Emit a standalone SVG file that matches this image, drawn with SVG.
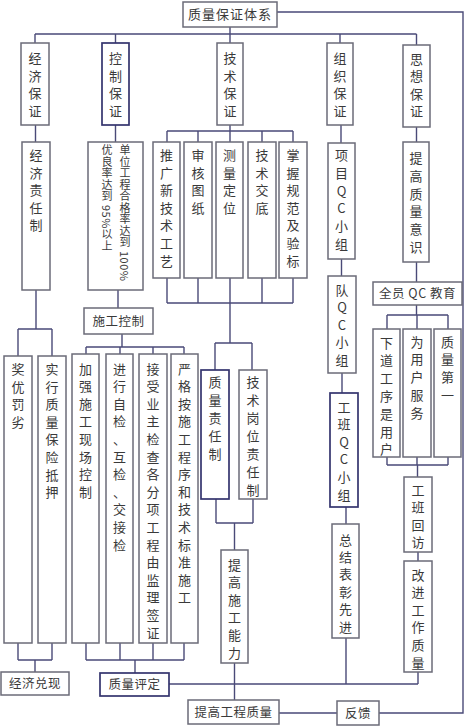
<svg xmlns="http://www.w3.org/2000/svg" width="465" height="726" viewBox="0 0 465 726">
<style>
.b{fill:#fff;stroke:#6b6b78;stroke-width:1.5}
.bd{fill:#fff;stroke:#34346e;stroke-width:1.7}
.c{fill:none;stroke:#4a4a78;stroke-width:1.4}
text{font-family:"Noto Sans CJK SC","Noto Sans CJK JP",sans-serif;font-size:13px;fill:#3a3a3a;text-anchor:middle}
.h{font-size:12.5px;letter-spacing:0.5px}
.v{font-size:11px;letter-spacing:0.5px;text-anchor:start;writing-mode:vertical-rl}
</style>
<rect width="465" height="726" fill="#fff"/>
<g id="connectors" class="c">
<path d="M230 27V34M35 34H416.5M35 34V43M115.5 34V43M230 34V43M340 34V43M416.5 34V45M277 12H463V713H379M279 713H337"/>
<path d="M35.5 125V142M115.5 125V142M118 290V308M230 125V142M167 131H293M167 131V142M198 131V142M262 131V142M293 131V142"/>
<path d="M341 125V143M341.5 259V276M342 373V393M346 507V524M346 638V684"/>
<path d="M416.5 127V142M416.5 262V282M416.5 305V315M387 315H448M387 315V329M417 315V329M448 315V329M387 457V465M417 457V465M448 457V465M387 465H448M417.5 465V477M418 552V561M418 672V684"/>
<path d="M36 290V329M18 329H52M18 329V356M52 329V356M122 334V347M86 347H184M86 347V354M120 347V354M153 347V354M184 347V354"/>
<path d="M18 643V660M52 643V660M18 660H52M35 660V672M86 643V660M120 643V660M153 643V660M184 643V660M86 660H184M135 660V673"/>
<path d="M167 278V303M198 278V303M262 278V303M293 278V303M167 303H293M230 278V343M215 343H252M215 343V370M252 343V370M216 499V523M253 499V523M216 523H253M234.5 523V550M234.5 663V700M169 684H418"/>
</g>
<g id="n0"><rect class="b" x="183" y="2" width="94" height="25"/><text x="230" y="19" style="letter-spacing:1px">质量保证体系</text></g>
<g id="n1"><rect class="b" x="21" y="43" width="28" height="82"/><text><tspan x="35" y="63">经</tspan><tspan x="35" y="80.5">济</tspan><tspan x="35" y="98">保</tspan><tspan x="35" y="115.5">证</tspan></text></g>
<g id="n2"><rect class="bd" x="102" y="43" width="27" height="82"/><text><tspan x="115.5" y="63">控</tspan><tspan x="115.5" y="80.5">制</tspan><tspan x="115.5" y="98">保</tspan><tspan x="115.5" y="115.5">证</tspan></text></g>
<g id="n3"><rect class="b" x="217" y="43" width="26" height="82"/><text><tspan x="230" y="63">技</tspan><tspan x="230" y="80.5">术</tspan><tspan x="230" y="98">保</tspan><tspan x="230" y="115.5">证</tspan></text></g>
<g id="n4"><rect class="b" x="327" y="43" width="26" height="82"/><text><tspan x="340" y="63">组</tspan><tspan x="340" y="80.5">织</tspan><tspan x="340" y="98">保</tspan><tspan x="340" y="115.5">证</tspan></text></g>
<g id="n5"><rect class="b" x="403" y="45" width="27" height="82"/><text><tspan x="416.5" y="63.5">思</tspan><tspan x="416.5" y="81">想</tspan><tspan x="416.5" y="98.5">保</tspan><tspan x="416.5" y="116">证</tspan></text></g>
<g id="n6"><rect class="b" x="22" y="142" width="28" height="148"/><text><tspan x="36" y="160">经</tspan><tspan x="36" y="177.6">济</tspan><tspan x="36" y="195.2">责</tspan><tspan x="36" y="212.8">任</tspan><tspan x="36" y="230.4">制</tspan></text></g>
<g id="n7"><rect class="b" x="88" y="142" width="55" height="148"/><text class="v" x="125" y="144.5">单位工程合格率达到 100%</text><text class="v" x="107" y="144.5">优良率达到 95%以上</text></g>
<g id="n8"><rect class="b" x="153" y="142" width="27" height="136"/><text><tspan x="166.5" y="160">推</tspan><tspan x="166.5" y="177.6">广</tspan><tspan x="166.5" y="195.2">新</tspan><tspan x="166.5" y="212.8">技</tspan><tspan x="166.5" y="230.4">术</tspan><tspan x="166.5" y="248">工</tspan><tspan x="166.5" y="265.6">艺</tspan></text></g>
<g id="n9"><rect class="b" x="184" y="142" width="28" height="136"/><text><tspan x="198" y="160">审</tspan><tspan x="198" y="177.6">核</tspan><tspan x="198" y="195.2">图</tspan><tspan x="198" y="212.8">纸</tspan></text></g>
<g id="n10"><rect class="b" x="216" y="142" width="27" height="136"/><text><tspan x="229.5" y="160">测</tspan><tspan x="229.5" y="177.6">量</tspan><tspan x="229.5" y="195.2">定</tspan><tspan x="229.5" y="212.8">位</tspan></text></g>
<g id="n11"><rect class="b" x="248" y="142" width="28" height="136"/><text><tspan x="262" y="160">技</tspan><tspan x="262" y="177.6">术</tspan><tspan x="262" y="195.2">交</tspan><tspan x="262" y="212.8">底</tspan></text></g>
<g id="n12"><rect class="b" x="279" y="142" width="28" height="136"/><text><tspan x="293" y="160">掌</tspan><tspan x="293" y="177.6">握</tspan><tspan x="293" y="195.2">规</tspan><tspan x="293" y="212.8">范</tspan><tspan x="293" y="230.4">及</tspan><tspan x="293" y="248">验</tspan><tspan x="293" y="265.6">标</tspan></text></g>
<g id="n13"><rect class="b" x="328" y="143" width="27" height="116"/><text><tspan x="341.5" y="160">项</tspan><tspan x="341.5" y="177.8">目</tspan><tspan x="341.5" y="195.6">Q</tspan><tspan x="341.5" y="213.4">C</tspan><tspan x="341.5" y="231.2">小</tspan><tspan x="341.5" y="249">组</tspan></text></g>
<g id="n14"><rect class="b" x="403" y="142" width="26" height="120"/><text><tspan x="416" y="163">提</tspan><tspan x="416" y="180.8">高</tspan><tspan x="416" y="198.6">质</tspan><tspan x="416" y="216.4">量</tspan><tspan x="416" y="234.2">意</tspan><tspan x="416" y="252">识</tspan></text></g>
<g id="n15"><rect class="b" x="84" y="308" width="69" height="26"/><text class="h" x="118.5" y="325.5">施工控制</text></g>
<g id="n16"><rect class="b" x="373" y="282" width="89" height="23"/><text class="h" x="417.5" y="298">全员 QC 教育</text></g>
<g id="n17"><rect class="b" x="328" y="276" width="28" height="97"/><text><tspan x="342" y="294.5">队</tspan><tspan x="342" y="312">Q</tspan><tspan x="342" y="329.5">C</tspan><tspan x="342" y="347">小</tspan><tspan x="342" y="364.5">组</tspan></text></g>
<g id="n18"><rect class="b" x="4" y="356" width="28" height="287"/><text><tspan x="18" y="374">奖</tspan><tspan x="18" y="391.6">优</tspan><tspan x="18" y="409.2">罚</tspan><tspan x="18" y="426.8">劣</tspan></text></g>
<g id="n19"><rect class="b" x="38" y="356" width="28" height="287"/><text><tspan x="52" y="374">实</tspan><tspan x="52" y="391.6">行</tspan><tspan x="52" y="409.2">质</tspan><tspan x="52" y="426.8">量</tspan><tspan x="52" y="444.4">保</tspan><tspan x="52" y="462">险</tspan><tspan x="52" y="479.6">抵</tspan><tspan x="52" y="497.2">押</tspan></text></g>
<g id="n20"><rect class="b" x="72" y="354" width="27" height="289"/><text><tspan x="85.5" y="373.5">加</tspan><tspan x="85.5" y="391.1">强</tspan><tspan x="85.5" y="408.7">施</tspan><tspan x="85.5" y="426.3">工</tspan><tspan x="85.5" y="443.9">现</tspan><tspan x="85.5" y="461.5">场</tspan><tspan x="85.5" y="479.1">控</tspan><tspan x="85.5" y="496.7">制</tspan></text></g>
<g id="n21"><rect class="b" x="106" y="354" width="27" height="289"/><text><tspan x="119.5" y="373.5">进</tspan><tspan x="119.5" y="391.1">行</tspan><tspan x="119.5" y="408.7">自</tspan><tspan x="119.5" y="426.3">检</tspan><tspan x="119.5" y="443.9">、</tspan><tspan x="119.5" y="461.5">互</tspan><tspan x="119.5" y="479.1">检</tspan><tspan x="119.5" y="496.7">、</tspan><tspan x="119.5" y="514.3">交</tspan><tspan x="119.5" y="531.9">接</tspan><tspan x="119.5" y="549.5">检</tspan></text></g>
<g id="n22"><rect class="b" x="139" y="354" width="28" height="289"/><text><tspan x="153" y="373.5">接</tspan><tspan x="153" y="391.1">受</tspan><tspan x="153" y="408.7">业</tspan><tspan x="153" y="426.3">主</tspan><tspan x="153" y="443.9">检</tspan><tspan x="153" y="461.5">查</tspan><tspan x="153" y="479.1">各</tspan><tspan x="153" y="496.7">分</tspan><tspan x="153" y="514.3">项</tspan><tspan x="153" y="531.9">工</tspan><tspan x="153" y="549.5">程</tspan><tspan x="153" y="567.1">由</tspan><tspan x="153" y="584.7">监</tspan><tspan x="153" y="602.3">理</tspan><tspan x="153" y="619.9">签</tspan><tspan x="153" y="637.5">证</tspan></text></g>
<g id="n23"><rect class="b" x="171" y="354" width="27" height="289"/><text><tspan x="184.5" y="373.5">严</tspan><tspan x="184.5" y="391.1">格</tspan><tspan x="184.5" y="408.7">按</tspan><tspan x="184.5" y="426.3">施</tspan><tspan x="184.5" y="443.9">工</tspan><tspan x="184.5" y="461.5">程</tspan><tspan x="184.5" y="479.1">序</tspan><tspan x="184.5" y="496.7">和</tspan><tspan x="184.5" y="514.3">技</tspan><tspan x="184.5" y="531.9">术</tspan><tspan x="184.5" y="549.5">标</tspan><tspan x="184.5" y="567.1">准</tspan><tspan x="184.5" y="584.7">施</tspan><tspan x="184.5" y="602.3">工</tspan></text></g>
<g id="n24"><rect class="bd" x="201" y="370" width="28" height="129"/><text><tspan x="215" y="386.5">质</tspan><tspan x="215" y="404.5">量</tspan><tspan x="215" y="422.5">责</tspan><tspan x="215" y="440.5">任</tspan><tspan x="215" y="458.5">制</tspan></text></g>
<g id="n25"><rect class="b" x="239" y="370" width="28" height="129"/><text><tspan x="253" y="386.5">技</tspan><tspan x="253" y="404.5">术</tspan><tspan x="253" y="422.5">岗</tspan><tspan x="253" y="440.5">位</tspan><tspan x="253" y="458.5">责</tspan><tspan x="253" y="476.5">任</tspan><tspan x="253" y="494.5">制</tspan></text></g>
<g id="n26"><rect class="b" x="373" y="329" width="27" height="128"/><text><tspan x="386.5" y="347.5">下</tspan><tspan x="386.5" y="365.3">道</tspan><tspan x="386.5" y="383.1">工</tspan><tspan x="386.5" y="400.9">序</tspan><tspan x="386.5" y="418.7">是</tspan><tspan x="386.5" y="436.5">用</tspan><tspan x="386.5" y="454.3">户</tspan></text></g>
<g id="n27"><rect class="b" x="403" y="329" width="28" height="128"/><text><tspan x="417" y="346.5">为</tspan><tspan x="417" y="364.3">用</tspan><tspan x="417" y="382.1">户</tspan><tspan x="417" y="399.9">服</tspan><tspan x="417" y="417.7">务</tspan></text></g>
<g id="n28"><rect class="b" x="434" y="329" width="27" height="128"/><text><tspan x="447.5" y="346.5">质</tspan><tspan x="447.5" y="364.3">量</tspan><tspan x="447.5" y="382.1">第</tspan><tspan x="447.5" y="399.9">一</tspan></text></g>
<g id="n29"><rect class="bd" x="330" y="393" width="28" height="114"/><text><tspan x="344" y="411.5">工</tspan><tspan x="344" y="429.1">班</tspan><tspan x="344" y="446.7">Q</tspan><tspan x="344" y="464.3">C</tspan><tspan x="344" y="481.9">小</tspan><tspan x="344" y="499.5">组</tspan></text></g>
<g id="n30"><rect class="b" x="404" y="477" width="28" height="75"/><text><tspan x="418" y="494.5">工</tspan><tspan x="418" y="512.1">班</tspan><tspan x="418" y="529.7">回</tspan><tspan x="418" y="547.3">访</tspan></text></g>
<g id="n31"><rect class="b" x="221" y="550" width="27" height="113"/><text><tspan x="234.5" y="569.5">提</tspan><tspan x="234.5" y="587.1">高</tspan><tspan x="234.5" y="604.7">施</tspan><tspan x="234.5" y="622.3">工</tspan><tspan x="234.5" y="639.9">能</tspan><tspan x="234.5" y="657.5">力</tspan></text></g>
<g id="n32"><rect class="b" x="332" y="524" width="27" height="114"/><text><tspan x="345.5" y="544.5">总</tspan><tspan x="345.5" y="561.9">结</tspan><tspan x="345.5" y="579.3">表</tspan><tspan x="345.5" y="596.7">彰</tspan><tspan x="345.5" y="614.1">先</tspan><tspan x="345.5" y="631.5">进</tspan></text></g>
<g id="n33"><rect class="b" x="404" y="561" width="28" height="111"/><text><tspan x="418" y="579.5">改</tspan><tspan x="418" y="597.1">进</tspan><tspan x="418" y="614.7">工</tspan><tspan x="418" y="632.3">作</tspan><tspan x="418" y="649.9">质</tspan><tspan x="418" y="667.5">量</tspan></text></g>
<g id="n34"><rect class="b" x="1" y="672" width="68" height="23"/><text class="h" x="35" y="688">经济兑现</text></g>
<g id="n35"><rect class="bd" x="100" y="673" width="69" height="23"/><text class="h" x="134.5" y="689">质量评定</text></g>
<g id="n36"><rect class="b" x="188" y="700" width="91" height="24"/><text class="h" x="233.5" y="716.5">提高工程质量</text></g>
<g id="n37"><rect class="b" x="337" y="701" width="42" height="24"/><text class="h" x="358" y="717.5">反馈</text></g>
</svg>
